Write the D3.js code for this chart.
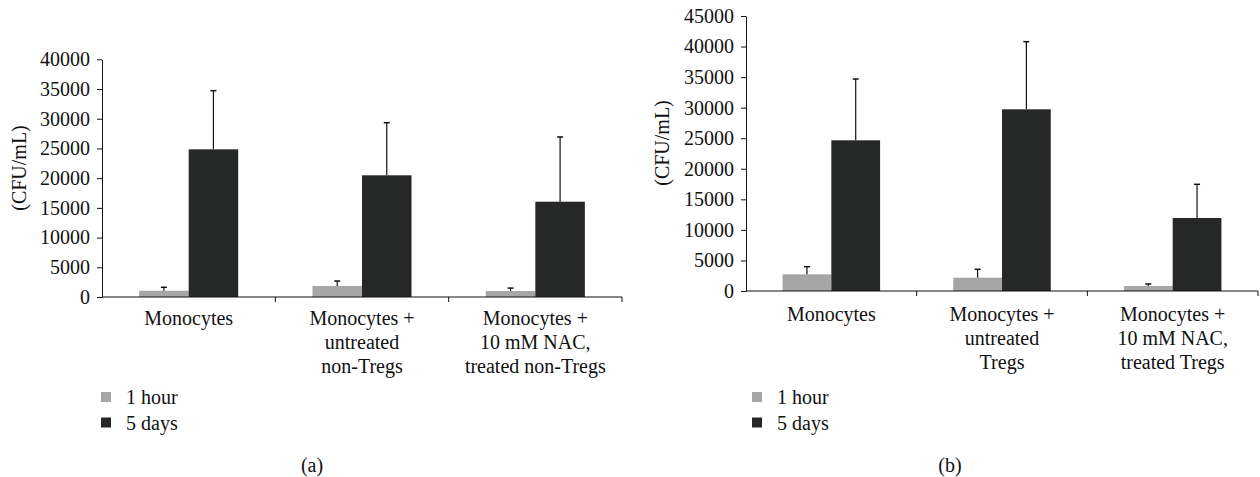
<!DOCTYPE html>
<html>
<head>
<script src="https://d3js.org/d3.v7.min.js"></script>
<style>
  body { margin: 0; background: #fff; }
  svg { display: block; }
  text { font-family: "Liberation Serif", "Times New Roman", serif; fill: #111; }
</style>
</head>
<body>
<script>
// series
var series = ["1 hour", "5 days"];
var colors = ["#a6a6a6", "#262828"];

// panel (a)
var catsA = [["Monocytes"], ["Monocytes +", "untreated", "non-Tregs"], ["Monocytes +", "10 mM NAC,", "treated non-Tregs"]];
var hourA = [1050, 1850, 1000];
var hourErrA = [580, 840, 500];
var daysA = [24850, 20480, 16040];
var daysErrA = [9870, 8850, 10890];
var ticksA = [0, 5000, 10000, 15000, 20000, 25000, 30000, 35000, 40000];

// panel (b)
var catsB = [["Monocytes"], ["Monocytes +", "untreated", "Tregs"], ["Monocytes +", "10 mM NAC,", "treated Tregs"]];
var hourB = [2730, 2180, 820];
var hourErrB = [1250, 1370, 330];
var daysB = [24660, 29730, 11950];
var daysErrB = [10030, 11070, 5510];
var ticksB = [0, 5000, 10000, 15000, 20000, 25000, 30000, 35000, 40000, 45000];

var W = 1260, H = 477, fs = 20;
var svg = d3.select("body").append("svg").attr("width", W).attr("height", H);

function drawPanel(p) {
    var g = svg.append("g");
    var x0 = d3.scaleBand().domain(d3.range(p.cats.length)).range([p.x0, p.x1]).padding(0);
    var x1 = d3.scaleBand().domain(series).range([0, x0.bandwidth()]).paddingInner(0).paddingOuter(0.75);
    var y = d3.scaleLinear().domain([0, p.max]).range([p.y0, p.y1]);

    // y axis
    var ya = g.append("g").attr("transform", "translate(" + p.x0 + ",0)")
        .call(d3.axisLeft(y).tickValues(p.ticks).tickSize(5).tickSizeOuter(0).tickPadding(7).tickFormat(d3.format("d")));
    ya.selectAll("text").style("font-size", fs + "px").attr("fill", "#111");
    ya.selectAll("line, path").attr("stroke", "#111");

    // bars
    var rows = p.cats.map(function(c, i) {
        return [
            { cat: i, s: series[0], v: p.hour[i], e: p.hourErr[i], c: colors[0] },
            { cat: i, s: series[1], v: p.days[i], e: p.daysErr[i], c: colors[1] }
        ];
    });
    var grp = g.selectAll("g.cat").data(rows).enter().append("g")
        .attr("class", "cat")
        .attr("transform", function(d, i) { return "translate(" + x0(i) + ",0)"; });
    grp.selectAll("rect").data(function(d) { return d; }).enter().append("rect")
        .attr("x", function(d) { return x1(d.s); })
        .attr("y", function(d) { return y(d.v); })
        .attr("width", x1.bandwidth())
        .attr("height", function(d) { return y(0) - y(d.v); })
        .attr("fill", function(d) { return d.c; });

    // error bars (upper only)
    var eb = grp.selectAll("g.err").data(function(d) { return d; }).enter().append("g").attr("class", "err");
    eb.append("line")
        .attr("x1", function(d) { return x1(d.s) + x1.bandwidth() / 2; })
        .attr("x2", function(d) { return x1(d.s) + x1.bandwidth() / 2; })
        .attr("y1", function(d) { return y(d.v); })
        .attr("y2", function(d) { return y(d.v + d.e); })
        .attr("stroke", "#111").attr("stroke-width", 1.2);
    eb.append("line")
        .attr("x1", function(d) { return x1(d.s) + x1.bandwidth() / 2 - 3; })
        .attr("x2", function(d) { return x1(d.s) + x1.bandwidth() / 2 + 3; })
        .attr("y1", function(d) { return y(d.v + d.e); })
        .attr("y2", function(d) { return y(d.v + d.e); })
        .attr("stroke", "#111").attr("stroke-width", 1.5);

    // x axis line + boundary ticks
    g.append("line").attr("x1", p.x0).attr("x2", p.x1).attr("y1", y(0)).attr("y2", y(0))
        .attr("stroke", "#111").attr("stroke-width", 1.2);
    g.selectAll("line.bt").data(d3.range(p.cats.length)).enter().append("line")
        .attr("class", "bt")
        .attr("x1", function(i) { return x0(i) + x0.bandwidth(); })
        .attr("x2", function(i) { return x0(i) + x0.bandwidth(); })
        .attr("y1", y(0)).attr("y2", y(0) + 5)
        .attr("stroke", "#111");

    // category labels
    var lab = g.selectAll("text.cl").data(p.cats).enter().append("text")
        .attr("class", "cl")
        .attr("text-anchor", "middle")
        .style("font-size", fs + "px")
        .attr("x", function(d, i) { return x0(i) + x0.bandwidth() / 2; })
        .attr("y", y(0) + p.labOff);
    lab.selectAll("tspan").data(function(d) { return d; }).enter().append("tspan")
        .attr("x", function() { return d3.select(this.parentNode).attr("x"); })
        .attr("dy", function(d, i) { return i === 0 ? 0 : 24; })
        .text(function(d) { return d; });

    // y label
    g.append("text")
        .attr("transform", "translate(" + p.ylx + "," + p.yly + ") rotate(-90)")
        .attr("text-anchor", "middle")
        .attr("dy", "0.35em")
        .style("font-size", "20px")
        .text("(CFU/mL)");

    // legend
    var leg = g.selectAll("g.leg").data(series).enter().append("g").attr("class", "leg")
        .attr("transform", function(d, i) { return "translate(" + p.legX + "," + (392 + i * 25.5) + ")"; });
    leg.append("rect").attr("width", 10).attr("height", 10)
        .attr("fill", function(d, i) { return colors[i]; });
    leg.append("text").attr("x", 25).attr("y", 5).attr("dy", "0.35em")
        .style("font-size", fs + "px").text(function(d) { return d; });

    // panel caption
    g.append("text").attr("x", p.capX).attr("y", 465).attr("dy", "0.35em")
        .attr("text-anchor", "middle").style("font-size", fs + "px").text(p.cap);
}

drawPanel({ cats: catsA, hour: hourA, hourErr: hourErrA, days: daysA, daysErr: daysErrA,
    ticks: ticksA, max: 40000, x0: 102, x1: 622, y0: 297, y1: 59.3, labOff: 28,
    ylx: 19, yly: 168, legX: 101, capX: 312, cap: "(a)" });

drawPanel({ cats: catsB, hour: hourB, hourErr: hourErrB, days: daysB, daysErr: daysErrB,
    ticks: ticksB, max: 45000, x0: 746, x1: 1258, y0: 291, y1: 16, labOff: 30,
    ylx: 662, yly: 143, legX: 752, capX: 950, cap: "(b)" });
</script>
</body>
</html>
